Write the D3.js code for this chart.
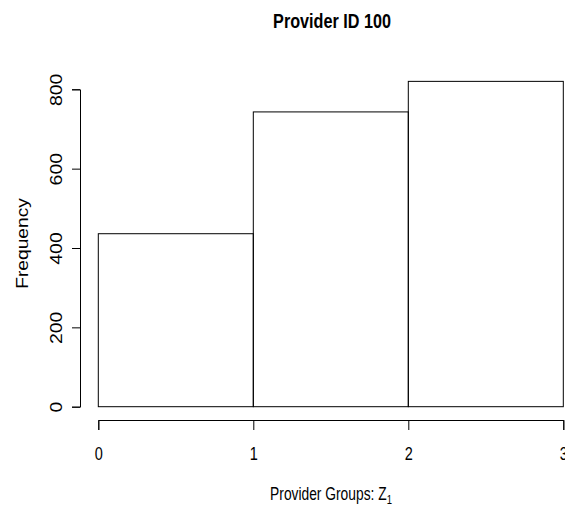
<!DOCTYPE html>
<html><head><meta charset="utf-8">
<script src="https://cdn.jsdelivr.net/npm/d3@7"></script>
<style>body{margin:0;background:#fff}</style>
</head><body>
<script>
const binEdges = [0, 1, 2, 3];
const frequencies = [436, 743, 820];
const yTicks = [0, 200, 400, 600, 800];
const xTicks = [0, 1, 2, 3];
const title = "Provider ID 100";
const yLabel = "Frequency";

const W = 565, H = 509;
const svg = d3.select("body").append("svg").attr("width", W).attr("height", H);
const x = d3.scaleLinear().domain([0, 3]).range([98.3, 563.3]);
const y = d3.scaleLinear().domain([0, 800]).range([406.7, 89.3]);
const font = "'Liberation Sans', Arial, Helvetica, sans-serif";

const bins = frequencies.map((f, i) => ({x0: binEdges[i], x1: binEdges[i + 1], f}));
svg.append("g").selectAll("rect").data(bins).join("rect")
  .attr("x", d => x(d.x0)).attr("width", d => x(d.x1) - x(d.x0))
  .attr("y", d => y(d.f)).attr("height", d => y(0) - y(d.f))
  .attr("fill", "none").attr("stroke", "#000").attr("stroke-width", 1);

const xa = svg.append("g").attr("transform", "translate(0,420)")
  .call(d3.axisBottom(x).tickValues(xTicks).tickSize(10).tickFormat(d3.format("d")));
xa.selectAll(".tick text").attr("font-family", font).attr("font-size", 14.5).attr("fill", "#000")
  .attr("y", 0).attr("dy", 0).attr("text-anchor", "middle")
  .attr("transform", "translate(0,39.5) scale(1,1.22)");
const ya = svg.append("g").attr("transform", "translate(80,0)")
  .call(d3.axisLeft(y).tickValues(yTicks).tickSize(8));
ya.selectAll(".tick text").attr("font-family", font).attr("font-size", 16.5).attr("fill", "#000")
  .attr("x", 0).attr("y", 0).attr("dy", 0).attr("text-anchor", "middle")
  .attr("transform", "translate(-18,0) rotate(-90) scale(1.18,1)");
svg.selectAll(".domain, .tick line").attr("stroke", "#000");

svg.append("text").attr("transform", "translate(332,28) scale(1,1.3)").attr("text-anchor", "middle")
  .attr("font-family", font).attr("font-weight", "bold").attr("font-size", 16.2).text(title);
const xl = svg.append("text").attr("transform", "translate(331,500) scale(1,1.3)").attr("text-anchor", "middle")
  .attr("font-family", font).attr("font-size", 13.8).attr("fill", "#000");
xl.append("tspan").text("Provider Groups: Z");
xl.append("tspan").attr("font-size", 9.5).attr("dy", 3).text("1");
svg.append("text").attr("transform", "translate(28,243.5) rotate(-90) scale(1.2,1)").attr("text-anchor", "middle")
  .attr("font-family", font).attr("font-size", 16).text(yLabel);
</script>
</body></html>
